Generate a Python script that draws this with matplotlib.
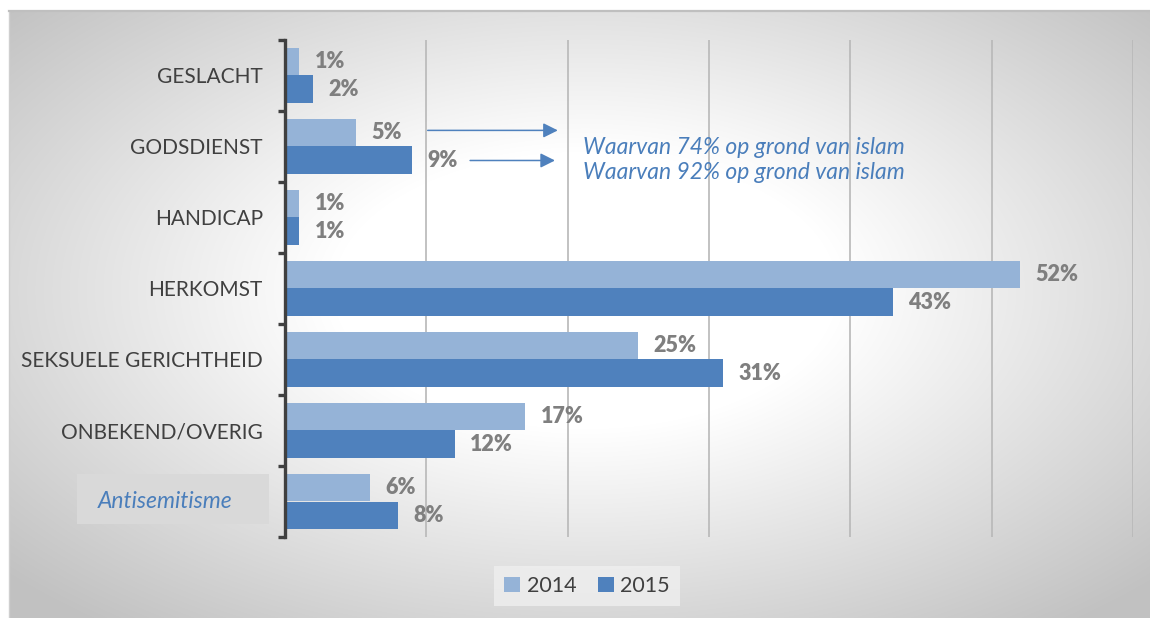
"""
Discrimination complaints by ground, 2014 vs 2015 (horizontal grouped bars).
"""
import matplotlib
matplotlib.use("Agg")
import matplotlib.pyplot as plt
import matplotlib.transforms as mtransforms
from matplotlib.patches import Rectangle
import numpy as np

plt.rcParams["font.family"] = ["Lato", "DejaVu Sans"]

# ---- data ----
categories = ["GESLACHT", "GODSDIENST", "HANDICAP", "HERKOMST",
              "SEKSUELE GERICHTHEID", "ONBEKEND/OVERIG", "Antisemitisme"]
pct_2014 = [1, 5, 1, 52, 25, 17, 6]
pct_2015 = [2, 9, 1, 43, 31, 12, 8]
years = ["2014", "2015"]
notes = ["Waarvan 74% op grond van islam", "Waarvan 92% op grond van islam"]

COL_2014 = "#95B3D7"
COL_2015 = "#4F81BD"
TEXT_DARK = "#404040"
LABEL_GREY = "#7f7f7f"
NOTE_BLUE = "#4A7EBB"

W, H = 1150, 618
fig = plt.figure(figsize=(W / 100, H / 100), dpi=100)
fig.patch.set_facecolor("white")

# ---- radial grey background (chart area frame) ----
bg = fig.add_axes([9 / W, 0, 1 - 9 / W, (H - 11) / H], zorder=0)
px, py = np.meshgrid(np.arange(9, W), np.arange(11, H))
r = np.sqrt(((px - 585) / 600.0) ** 2 + ((py - 290) / 330.0) ** 2)
t = np.clip((r - 0.42) / 0.88, 0, 1)
grey = (255 - 62 * t) / 255.0
bg.imshow(np.dstack([grey, grey, grey]), aspect="auto",
          extent=[0, 1, 0, 1], interpolation="bilinear")
bg.set_xticks([])
bg.set_yticks([])
for side in ("right", "bottom"):
    bg.spines[side].set_visible(False)
bg.spines["top"].set_color("#bfbfbf")
bg.spines["top"].set_linewidth(1.6)
bg.spines["left"].set_color("#cfcfcf")
bg.spines["left"].set_linewidth(1.0)

# ---- main bar axes ----
ax = fig.add_axes([285 / W, 1 - 537 / H, (1133 - 285) / W, (537 - 40) / H],
                  zorder=2)
ax.set_facecolor("none")

y = np.arange(len(categories))
h = 0.394
ax.barh(y - h / 2, pct_2014, height=h, color=COL_2014, label=years[0], zorder=3)
ax.barh(y + h / 2, pct_2015, height=h, color=COL_2015, label=years[1], zorder=3)

ax.set_xlim(0, 60)
ax.set_ylim(len(categories) - 0.5, -0.5)

ax.set_xticks(np.arange(10, 61, 10))
ax.tick_params(axis="x", length=0, labelbottom=False)
ax.grid(axis="x", color="#b8b8b8", linewidth=1.2, zorder=1)

for side in ("top", "right", "bottom"):
    ax.spines[side].set_visible(False)
ax.spines["left"].set_color(TEXT_DARK)
ax.spines["left"].set_linewidth(2.4)
ax.spines["left"].set_zorder(4)

# boundary ticks (bracket look) + centered category labels
ax.set_yticks(np.arange(-0.5, len(categories), 1.0))
ax.set_yticklabels([])
ax.tick_params(axis="y", which="major", direction="out", length=5,
               width=2.4, color=TEXT_DARK)
ax.set_yticks(y, minor=True)
ax.set_yticklabels(categories[:-1] + [""], minor=True)
ax.tick_params(axis="y", which="minor", length=0, pad=16,
               labelsize=15, labelcolor=TEXT_DARK)

# highlighted last category in its own grey box
blend = mtransforms.blended_transform_factory(fig.transFigure, ax.transData)
fig.patches.append(Rectangle((77 / W, 1 - 524 / H), 192 / W, 50 / H,
                             transform=fig.transFigure, facecolor="#d9d9d9",
                             edgecolor="none", zorder=1))
fig.text(165 / W, y[-1], categories[-1], transform=blend, ha="center",
         va="center", fontsize=16.5, style="italic", color=NOTE_BLUE, zorder=3)

# value labels
for vals, off in ((pct_2014, -h / 2), (pct_2015, h / 2)):
    for yi, v in zip(y, vals):
        ax.annotate(f"{v}%", xy=(v, yi + off), xytext=(11, 0),
                    textcoords="offset points", ha="left", va="center",
                    fontsize=15.5, fontweight="heavy", color=LABEL_GREY,
                    zorder=5)

# arrows + notes for GODSDIENST
gi = categories.index("GODSDIENST")
arrow_kw = dict(arrowstyle="-|>", mutation_scale=22, lw=1.1, color=COL_2015)
ax.annotate("", xy=(19.5, gi - h / 2 - 0.03), xytext=(9.9, gi - h / 2 - 0.03),
            arrowprops=arrow_kw, zorder=5)
ax.annotate("", xy=(19.3, gi + h / 2), xytext=(12.9, gi + h / 2),
            arrowprops=arrow_kw, zorder=5)
ax.text(21.1, gi + 0.01, notes[0], ha="left", va="center", fontsize=16.5,
        style="italic", color=NOTE_BLUE)
ax.text(21.1, gi + 0.37, notes[1], ha="left", va="center", fontsize=16.5,
        style="italic", color=NOTE_BLUE)

# legend
leg = fig.legend(loc="center", bbox_to_anchor=(587 / W, 1 - 586 / H), ncol=2,
                 fontsize=15.5, frameon=True, fancybox=False,
                 handlelength=0.75, handleheight=0.75, handletextpad=0.3,
                 columnspacing=1.0, borderpad=0.45)
leg.get_frame().set_facecolor("#efefef")
leg.get_frame().set_edgecolor("none")
for txt in leg.get_texts():
    txt.set_color(TEXT_DARK)

fig.savefig("out.png", dpi=100)
